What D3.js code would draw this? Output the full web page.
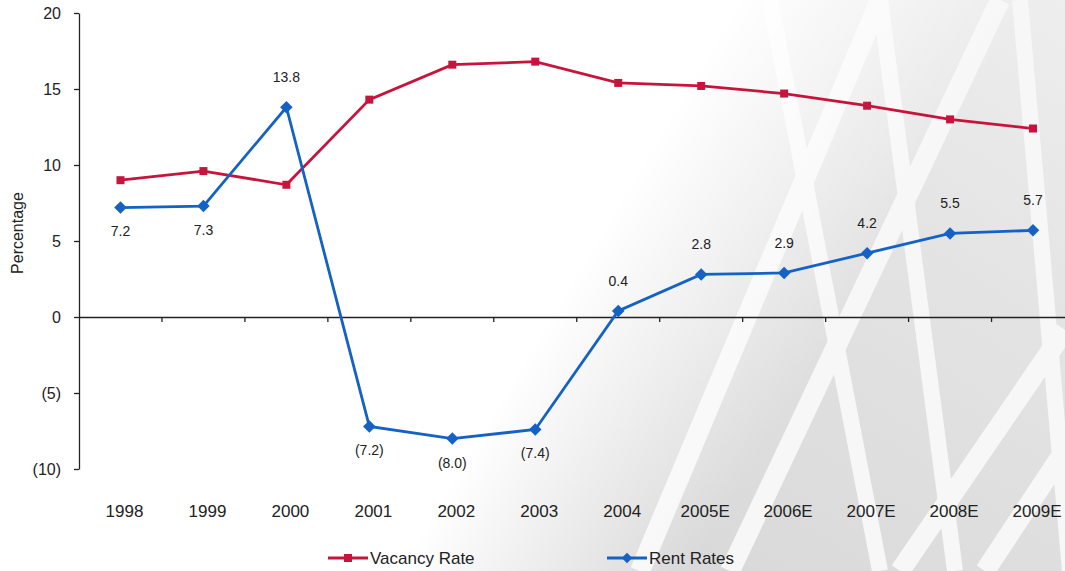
<!DOCTYPE html>
<html>
<head>
<meta charset="utf-8">
<script src="https://cdn.jsdelivr.net/npm/d3@7"></script>
<style>
  html, body { margin: 0; padding: 0; background: #fff; }
  svg { display: block; font-family: "Liberation Sans", Arial, sans-serif; }
</style>
</head>
<body>
<svg id="chart" width="1065" height="571"></svg>
<script>
// ---- data ----
const categories = ["1998","1999","2000","2001","2002","2003","2004","2005E","2006E","2007E","2008E","2009E"];
const vacancyRate = [9.0, 9.6, 8.7, 14.3, 16.6, 16.8, 15.4, 15.2, 14.7, 13.9, 13.0, 12.4];
const rentRates   = [7.2, 7.3, 13.8, -7.2, -8.0, -7.4, 0.4, 2.8, 2.9, 4.2, 5.5, 5.7];
const yTicks = [-10, -5, 0, 5, 10, 15, 20];
const seriesNames = ["Vacancy Rate", "Rent Rates"];
const yAxisTitle = "Percentage";

// ---- setup ----
const W = 1065, H = 571;
const svg = d3.select("#chart");
const RED = "#c8143c", BLUE = "#1462c4";
const fmt = v => v < 0 ? `(${(-v).toFixed(1)})` : v.toFixed(1);
const fmtTick = v => v < 0 ? `(${-v})` : `${v}`;

// ---- decorative background (faint building facade) ----
const defs = svg.append("defs");
const fade = defs.append("linearGradient").attr("id", "fade")
  .attr("gradientUnits", "userSpaceOnUse")
  .attr("x1", 560).attr("y1", 300).attr("x2", 775).attr("y2", 428);
fade.append("stop").attr("offset", "0%").attr("stop-color", "#fff").attr("stop-opacity", 1);
fade.append("stop").attr("offset", "100%").attr("stop-color", "#fff").attr("stop-opacity", 0);
const gray = defs.append("linearGradient").attr("id", "gray")
  .attr("gradientUnits", "userSpaceOnUse")
  .attr("x1", 700).attr("y1", 571).attr("x2", 1065).attr("y2", 0);
gray.append("stop").attr("offset", "0%").attr("stop-color", "#d9d9d9");
gray.append("stop").attr("offset", "60%").attr("stop-color", "#e4e4e4");
gray.append("stop").attr("offset", "100%").attr("stop-color", "#eeeeee");

const bg = svg.append("g");
bg.append("path")
  .attr("d", "M380,571 L720,0 L1065,0 L1065,571 Z")
  .attr("fill", "url(#gray)");
const mullionsA = [[640,571,880,0],[730,571,1000,0],[900,571,1065,330],[985,571,1065,450]];
const mullionsB = [[770,0,880,571],[880,0,955,571],[1020,0,1070,571]];
bg.selectAll(".ma").data(mullionsA).join("line")
  .attr("x1", d => d[0]).attr("y1", d => d[1]).attr("x2", d => d[2]).attr("y2", d => d[3])
  .attr("stroke", "#f7f7f7").attr("stroke-width", 20);
bg.selectAll(".mb").data(mullionsB).join("line")
  .attr("x1", d => d[0]).attr("y1", d => d[1]).attr("x2", d => d[2]).attr("y2", d => d[3])
  .attr("stroke", "#f7f7f7").attr("stroke-width", 16);
bg.append("rect").attr("x", 0).attr("y", 0).attr("width", W).attr("height", H)
  .attr("fill", "url(#fade)");

// ---- scales ----
const x = d3.scaleBand().domain(categories).range([79, 1074.5]).padding(0);
const cx = c => x(c) + x.bandwidth() / 2;
const y = d3.scaleLinear().domain([-10, 20]).range([469, 13]);

// ---- axes ----
const yAxis = d3.axisLeft(y).tickValues(yTicks).tickFormat(fmtTick)
  .tickSize(5).tickSizeOuter(0).tickPadding(13);
const gy = svg.append("g").attr("transform", "translate(79,0)").call(yAxis);
gy.select(".domain").attr("stroke", "#222").attr("stroke-width", 1.3);
gy.selectAll(".tick line").attr("stroke", "#222").attr("stroke-width", 1.3);
gy.selectAll(".tick text").attr("font-size", 16).attr("fill", "#222")
  .attr("font-family", "Liberation Sans, Arial, sans-serif");

const xAxis = d3.axisBottom(x).tickSize(0).tickSizeOuter(0).tickFormat("");
const gx = svg.append("g").attr("transform", `translate(0,${y(0)})`).call(xAxis);
gx.select(".domain").attr("stroke", "#222").attr("stroke-width", 1.3);
gx.selectAll(".tick").remove();
svg.append("g").selectAll("line").data(categories.slice(1)).join("line")
  .attr("x1", d => x(d)).attr("x2", d => x(d))
  .attr("y1", y(0)).attr("y2", y(0) + 5)
  .attr("stroke", "#222").attr("stroke-width", 1.3);

// category labels
svg.append("g").selectAll("text").data(categories).join("text")
  .attr("x", d => cx(d) + 4).attr("y", 511).attr("dy", "0.35em")
  .attr("text-anchor", "middle").attr("font-size", 17).attr("fill", "#222")
  .text(d => d);

// y title
svg.append("text")
  .attr("transform", "translate(17,233) rotate(-90)")
  .attr("text-anchor", "middle").attr("dy", "0.35em")
  .attr("font-size", 16).attr("fill", "#222")
  .text(yAxisTitle);

// ---- lines ----
const line = d3.line().x(d => cx(d.c)).y(d => y(d.v));
const vacData = categories.map((c, i) => ({ c, v: vacancyRate[i] }));
const rentData = categories.map((c, i) => ({ c, v: rentRates[i] }));

svg.append("path").datum(vacData).attr("d", line)
  .attr("fill", "none").attr("stroke", RED).attr("stroke-width", 2.8);
svg.append("g").selectAll("rect").data(vacData).join("rect")
  .attr("x", d => cx(d.c) - 4).attr("y", d => y(d.v) - 4)
  .attr("width", 8).attr("height", 8).attr("fill", RED);

svg.append("path").datum(rentData).attr("d", line)
  .attr("fill", "none").attr("stroke", BLUE).attr("stroke-width", 2.8);
const diamond = d3.symbol().type(d3.symbolDiamond2).size(100);
svg.append("g").selectAll("path").data(rentData).join("path")
  .attr("d", diamond)
  .attr("transform", d => `translate(${cx(d.c)},${y(d.v)})`)
  .attr("fill", BLUE);

// data labels for rent rates
svg.append("g").selectAll("text").data(rentData).join("text")
  .attr("x", d => cx(d.c))
  .attr("y", (d, i) => (d.v < 0 || i < 2) ? y(d.v) + 24 : y(d.v) - 30)
  .attr("dy", "0.35em").attr("text-anchor", "middle")
  .attr("font-size", 14).attr("fill", "#222")
  .text(d => fmt(d.v));

// ---- legend ----
const legend = [
  { name: seriesNames[0], color: RED, x0: 328, marker: "square" },
  { name: seriesNames[1], color: BLUE, x0: 607, marker: "diamond" }
];
const lg = svg.append("g").selectAll("g").data(legend).join("g")
  .attr("transform", d => `translate(${d.x0},558)`);
lg.append("line").attr("x1", 0).attr("x2", 40).attr("y1", 0).attr("y2", 0)
  .attr("stroke", d => d.color).attr("stroke-width", 2.8);
lg.append("path")
  .attr("d", d => d.marker === "square"
    ? d3.symbol().type(d3.symbolSquare).size(64)()
    : d3.symbol().type(d3.symbolDiamond2).size(70)())
  .attr("transform", "translate(20,0)")
  .attr("fill", d => d.color);
lg.append("text").attr("x", 42).attr("dy", "0.35em")
  .attr("font-size", 17).attr("fill", "#222")
  .text(d => d.name);
</script>
</body>
</html>
